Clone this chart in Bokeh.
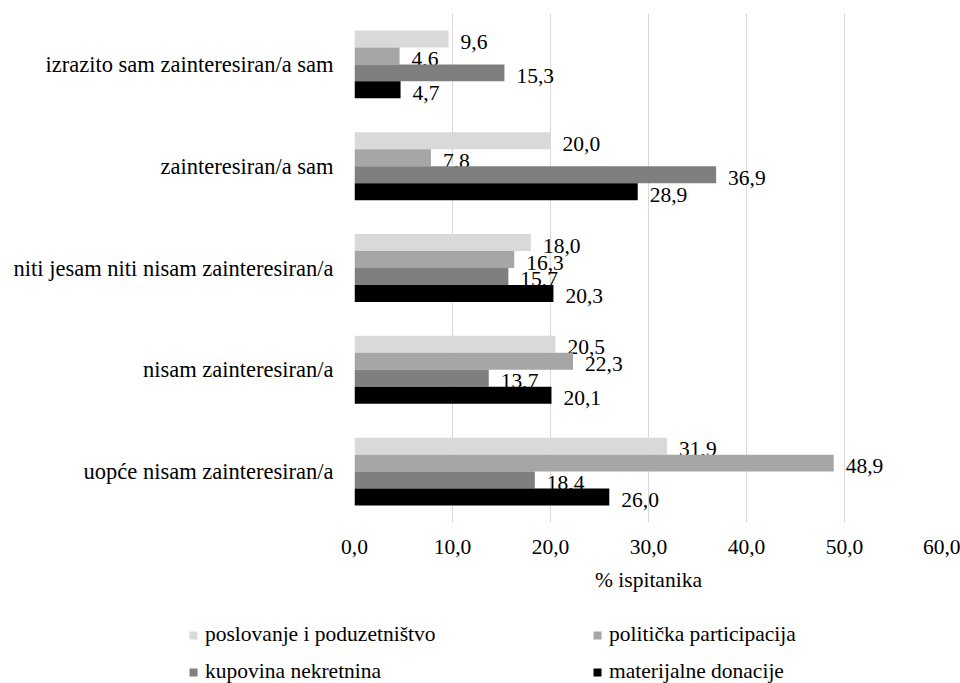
from bokeh.plotting import figure
from bokeh.layouts import column
from bokeh.models import FactorRange, Range1d, FixedTicker, Legend, LegendItem, ColumnDataSource
from bokeh.transform import dodge
from bokeh.core.properties import value
from bokeh.embed import file_html
from bokeh.resources import INLINE

categories = [
    "izrazito sam zainteresiran/a sam",
    "zainteresiran/a sam",
    "niti jesam niti nisam zainteresiran/a",
    "nisam zainteresiran/a",
    "uopće nisam zainteresiran/a",
]
series_names = [
    "poslovanje i poduzetništvo",
    "politička participacija",
    "kupovina nekretnina",
    "materijalne donacije",
]
poslovanje = [9.6, 20.0, 18.0, 20.5, 31.9]
politicka = [4.6, 7.8, 16.3, 22.3, 48.9]
kupovina = [15.3, 36.9, 15.7, 13.7, 18.4]
donacije = [4.7, 28.9, 20.3, 20.1, 26.0]
series_values = [poslovanje, politicka, kupovina, donacije]
colors = ["#D9D9D9", "#A6A6A6", "#7F7F7F", "#000000"]
x_ticks = [0, 10, 20, 30, 40, 50, 60]
x_tick_labels = ["0,0", "10,0", "20,0", "30,0", "40,0", "50,0", "60,0"]
x_title = "% ispitanika"

FONT = "'Liberation Serif', 'Times New Roman', serif"
FS = "21.5px"
FS_CAT = "22.5px"

p = figure(
    width=960, height=600,
    y_range=FactorRange(factors=categories[::-1]),
    x_range=Range1d(0, 60),
    output_backend="svg", toolbar_location=None,
    min_border_left=354, min_border_right=18,
    min_border_top=13, min_border_bottom=78,
)
p.outline_line_color = None
p.background_fill_color = "white"

bar_h = 1.0 / 6.0
offsets = [1.5 * bar_h, 0.5 * bar_h, -0.5 * bar_h, -1.5 * bar_h]

for name, vals, col, off in zip(series_names, series_values, colors, offsets):
    src = ColumnDataSource(dict(
        cat=categories,
        val=vals,
        lab=[f"{v:.1f}".replace(".", ",") for v in vals],
    ))
    p.hbar(y=dodge("cat", off, range=p.y_range), right="val", left=0,
           height=bar_h, fill_color=col, line_color=None, source=src)
    p.text(x="val", y=dodge("cat", off, range=p.y_range), text="lab", source=src,
           x_offset=12, y_offset=3, text_baseline="middle", text_align="left",
           text_font=value(FONT), text_font_size=FS, text_color="black")

# axes
p.xaxis.ticker = FixedTicker(ticks=x_ticks)
p.xaxis.major_label_overrides = {t: l for t, l in zip(x_ticks, x_tick_labels)}
p.xaxis.axis_line_color = None
p.xaxis.major_tick_in = 0
p.xaxis.major_tick_out = 0
p.xaxis.minor_tick_line_color = None
p.xaxis.major_label_standoff = 17
p.xaxis.major_label_text_font = FONT
p.xaxis.major_label_text_font_size = FS
p.xaxis.major_label_text_color = "black"
p.xaxis.axis_label = x_title
p.xaxis.axis_label_text_font = FONT
p.xaxis.axis_label_text_font_size = FS
p.xaxis.axis_label_text_font_style = "normal"
p.xaxis.axis_label_text_color = "black"
p.xaxis.axis_label_standoff = 11

p.yaxis.axis_line_color = None
p.yaxis.major_tick_in = 0
p.yaxis.major_tick_out = 0
p.yaxis.major_label_standoff = 21
p.yaxis.major_label_text_font = FONT
p.yaxis.major_label_text_font_size = FS_CAT
p.yaxis.major_label_text_color = "black"

p.ygrid.grid_line_color = None
p.xgrid.ticker = FixedTicker(ticks=x_ticks)
p.xgrid.grid_line_color = "#D9D9D9"
p.xgrid.grid_line_width = 1

# legend figure (proxies drawn outside its visible range)
q = figure(
    width=960, height=83, x_axis_type=None, y_axis_type=None,
    x_range=Range1d(-3, -2), y_range=Range1d(0, 1),
    output_backend="svg", toolbar_location=None,
    min_border_left=0, min_border_right=0, min_border_top=0, min_border_bottom=0,
)
q.outline_line_color = None
q.grid.grid_line_color = None
for fig in (p, q):
    if "frame_align" in fig.properties():
        fig.frame_align = False

legend_renderers = []
for name, vals, col in zip(series_names, series_values, colors):
    src = ColumnDataSource(dict(y=[0.5] * len(vals), right=vals))
    legend_renderers.append(
        q.hbar(y="y", right="right", left=0, height=0.5, fill_color=col,
               line_color=None, source=src)
    )

def make_legend(idx, loc):
    return Legend(
        items=[LegendItem(label=series_names[i], renderers=[legend_renderers[i]]) for i in idx],
        location=loc, orientation="vertical",
        border_line_color=None, background_fill_alpha=0,
        padding=0, margin=0, spacing=12,
        glyph_width=10, glyph_height=10, label_standoff=7,
        label_height=24,
        label_text_font=FONT, label_text_font_size=FS, label_text_color="black",
    )

q.add_layout(make_legend([0, 2], (188, -1)), "center")
q.add_layout(make_legend([1, 3], (592, -1)), "center")

open("out.html", "w").write(file_html(column(p, q), INLINE))
